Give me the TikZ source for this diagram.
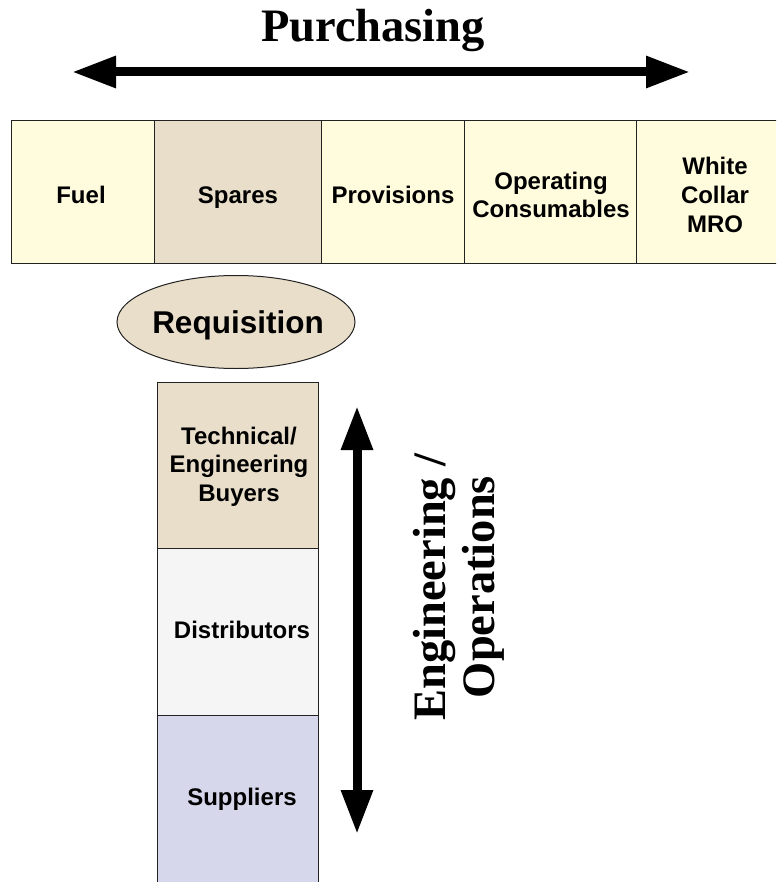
\documentclass[tikz,border=0pt]{standalone}
\usepackage{fontspec}
\setmainfont{Liberation Serif}
\newfontfamily\arialfont{Liberation Sans}
\usetikzlibrary{arrows.meta,shapes.geometric}
\definecolor{cream}{HTML}{FFFBDD}
\definecolor{tan}{HTML}{E9DECA}
\definecolor{paleg}{HTML}{F5F5F5}
\definecolor{lav}{HTML}{D7D7EB}
\definecolor{edge}{HTML}{222222}
\tikzset{
  cell/.style={draw=edge, line width=1pt, rectangle, inner sep=0pt, anchor=north west},
  lbl/.style={font=\arialfont\bfseries\fontsize{24}{28.5}\selectfont, align=center, inner sep=0pt, anchor=base},
  bigarrow/.style={line width=9pt, {Triangle[length=44pt,width=30pt]}-{Triangle[length=44pt,width=30pt]}},
  title/.style={font=\bfseries\fontsize{46.5}{49}\selectfont, align=center, inner sep=0pt}
}
\begin{document}
\begin{tikzpicture}[x=1pt,y=-1pt]
\useasboundingbox (0,0) rectangle (776,882);
\clip (0,0) rectangle (776,882);
% title and arrow
\node[title, anchor=base] (purch) at (373,42) {Purchasing};
\coordinate (pl) at (72,72);
\coordinate (pr) at (690,72);
\draw[bigarrow] (pl) -- (pr);
% top row
\node[cell, fill=cream, minimum width=143pt, minimum height=143pt] (fuel) at (11,120) {};
\node[cell, fill=tan, minimum width=167pt, minimum height=143pt] (spares) at (154,120) {};
\node[cell, fill=cream, minimum width=143pt, minimum height=143pt] (prov) at (321,120) {};
\node[cell, fill=cream, minimum width=172pt, minimum height=143pt] (opc) at (464,120) {};
\node[cell, fill=cream, minimum width=160pt, minimum height=143pt] (wc) at (636,120) {};
\node[lbl] (fuelt) at (81,204) {Fuel};
\node[lbl] (sparest) at (238,204) {Spares};
\node[lbl] (provt) at (393,204) {Provisions};
\node[lbl, font=\arialfont\bfseries\fontsize{24}{28}\selectfont] (opct) at (551,218) {Operating\\Consumables};
\node[lbl, font=\arialfont\bfseries\fontsize{24}{29}\selectfont] (wct) at (715,233) {White\\Collar\\MRO};
% requisition
\node[ellipse, draw=edge, line width=1pt, fill=tan, minimum width=238pt, minimum height=93pt, inner sep=0pt] (req) at (236,322) {};
\node[lbl, font=\arialfont\bfseries\fontsize{31.5}{34}\selectfont] (reqt) at (238,333) {Requisition};
% column
\node[cell, fill=tan, minimum width=161pt, minimum height=166pt] (tech) at (157,382) {};
\node[cell, fill=paleg, minimum width=161pt, minimum height=167pt] (dist) at (157,548) {};
\node[cell, fill=lav, minimum width=161pt, minimum height=175pt] (supp) at (157,715) {};
\node[lbl] (techt) at (239,501) {Technical/\\Engineering\\Buyers};
\node[lbl] (distt) at (242,638) {Distributors};
\node[lbl] (suppt) at (242,805) {Suppliers};
% vertical arrow
\coordinate (vt) at (357,406);
\coordinate (vb) at (357,834);
\draw[bigarrow] (vt) -- (vb);
\node[title, rotate=90] (eng) at (459,587) {Engineering /\\Operations};
\end{tikzpicture}
\end{document}
